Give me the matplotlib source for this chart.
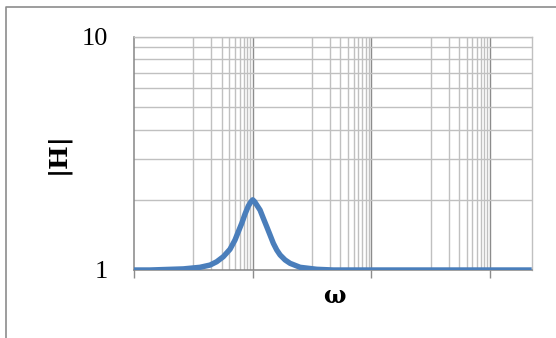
import matplotlib
matplotlib.use("Agg")
import matplotlib.pyplot as plt
from matplotlib.lines import Line2D

# frequency (omega) and magnitude |H|
omega = [0.01, 0.0185, 0.0676, 0.129, 0.191, 0.247, 0.319, 0.414, 0.503,
         0.572, 0.653, 0.742, 0.843, 0.92, 1.0, 1.08, 1.168, 1.328, 1.509,
         1.722, 1.957, 2.225, 2.54, 2.89, 3.51, 4.26, 6.28, 12.0, 22.9,
         100.0, 1000.0, 50000.0]
mag_h = [1.0, 1.0, 1.011, 1.027, 1.05, 1.085, 1.14, 1.227, 1.345,
         1.46, 1.585, 1.738, 1.88, 1.95, 2.0, 1.96, 1.90, 1.807, 1.665,
         1.533, 1.413, 1.301, 1.218, 1.16, 1.104, 1.068, 1.027, 1.007, 1.0,
         1.0, 1.0, 1.0]

x_major = [0.01, 1, 100, 10000]
x_minor = [k * 0.1 for k in range(1, 10)] + [k * 10 for k in range(1, 10)] + \
          [k * 1000 for k in range(1, 10)]
y_ticks = [1, 10]
y_tick_labels = ["1", "10"]
y_minor = [2, 3, 4, 5, 6, 7, 8, 9]

fig = plt.figure(figsize=(5.56, 3.38), dpi=100)
ax = fig.add_axes([134 / 556, 68 / 338, 397.7 / 556, 233.3 / 338])

ax.set_xscale("log")
ax.set_yscale("log")
ax.set_xlim(0.01, 50000)
ax.set_ylim(1, 10)

# gridlines drawn by hand so minor/major colours match
for v in x_minor:
    ax.axvline(v, color="#c0c0c0", lw=1.0, zorder=1)
for v in x_major[1:]:
    ax.axvline(v, color="#8c8c8c", lw=1.0, zorder=1)
for v in y_minor + [10]:
    ax.axhline(v, color="#c0c0c0", lw=1.0, zorder=1)

ax.plot(omega, mag_h, color="#4a7ebb", lw=3.9, solid_capstyle="butt",
        solid_joinstyle="round", zorder=3)

ax.set_xticks(x_major)
ax.set_xticklabels([])
ax.xaxis.set_minor_locator(matplotlib.ticker.NullLocator())
ax.yaxis.set_minor_locator(matplotlib.ticker.NullLocator())
ax.tick_params(axis="x", direction="out", length=6, width=1, color="#8c8c8c")
ax.set_yticks(y_ticks)
ax.set_yticklabels(y_tick_labels, family="Liberation Serif", fontsize=19)
ax.tick_params(axis="y", length=0, pad=19)

for s in ["left", "bottom"]:
    ax.spines[s].set_color("#868686")
    ax.spines[s].set_linewidth(1.1)
for s in ["top", "right"]:
    ax.spines[s].set_color("#c0c0c0")
    ax.spines[s].set_linewidth(1.0)

fig.text(57.5 / 556, 1 - 153.5 / 338, "|H|", rotation=90, ha="center", va="center",
         family="DejaVu Serif", fontweight="bold", fontsize=18)
fig.text(334 / 556, 1 - 296 / 338, "ω", ha="center", va="center",
         family="DejaVu Serif", fontweight="bold", fontsize=17)

# outer chart border (only top and left visible in the crop)
fig.add_artist(Line2D([5.5 / 556, 5.5 / 556, 1.0], [0.0, 1 - 7.3 / 338, 1 - 7.3 / 338],
                      transform=fig.transFigure, color="#8c8c8c", lw=1.2))

fig.savefig("out.png", dpi=100)
